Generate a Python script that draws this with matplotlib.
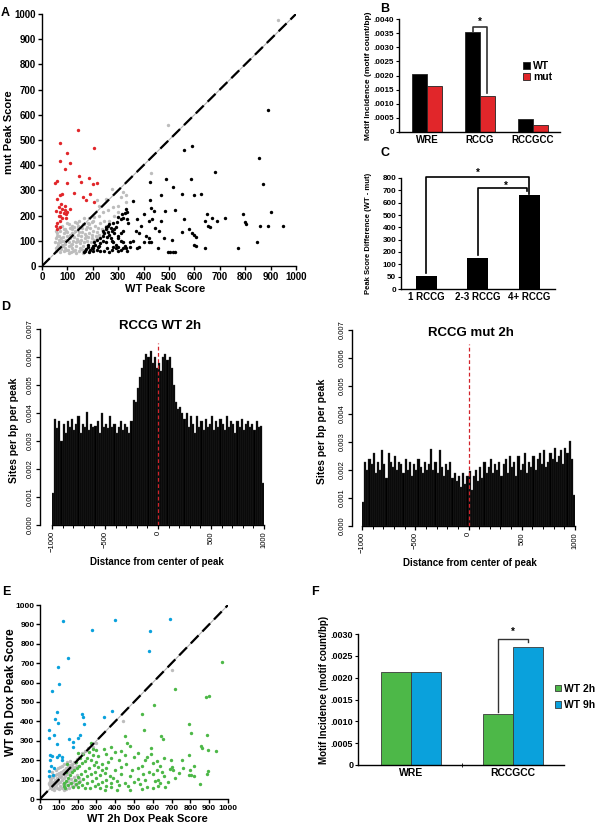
import numpy as np
import matplotlib
matplotlib.use('Agg')
import matplotlib.pyplot as plt

plt.rcParams['font.family'] = ['Liberation Sans', 'DejaVu Sans']
plt.rcParams['font.weight'] = 'bold'
plt.rcParams['axes.labelweight'] = 'bold'
plt.rcParams['axes.linewidth'] = 1.0

# ---------------- data ----------------
# A: WT vs mut peak scores
a_red = [(140, 540), (70, 487), (205, 467), (100, 447), (70, 417), (110, 410), (90, 385),
         (145, 357), (185, 350), (60, 338), (50, 328), (100, 330), (215, 330), (155, 333),
         (200, 325), (125, 290), (80, 285), (70, 283), (160, 275), (190, 285), (175, 262),
         (205, 255), (60, 265), (75, 245), (65, 235), (80, 228), (90, 222), (110, 228),
         (55, 220), (70, 215), (85, 210), (95, 205), (65, 198), (80, 192), (95, 190),
         (70, 180), (60, 172), (55, 160), (70, 155), (60, 145), (70, 200), (90, 240), (100, 215)]
a_gray = [(930, 975), (495, 560), (430, 370), (275, 305), (320, 295), (330, 280), (310, 275),
          (250, 265), (215, 262), (225, 240), (330, 255), (300, 240), (280, 235),
          (260, 222), (240, 215), (225, 200), (205, 195), (185, 190), (165, 190), (145, 180),
          (130, 175), (200, 180), (180, 170), (160, 165), (140, 160), (120, 160), (110, 150),
          (90, 145), (70, 140), (55, 140), (55, 60), (60, 75), (62, 90), (65, 105), (68, 120),
          (72, 55), (75, 68), (78, 85), (80, 100), (82, 115), (85, 130), (88, 58), (90, 72),
          (92, 88), (95, 102), (98, 118), (100, 135), (103, 62), (105, 78), (108, 95), (110, 110),
          (112, 125), (115, 55), (118, 70), (120, 88), (122, 100), (125, 115), (128, 140),
          (130, 65), (133, 80), (135, 95), (138, 108), (140, 125), (142, 150), (145, 58),
          (148, 72), (150, 90), (152, 105), (155, 118), (158, 135), (160, 62), (163, 78),
          (165, 95), (168, 110), (170, 128), (173, 145), (178, 100), (182, 115), (185, 130),
          (190, 150), (195, 110), (198, 125), (202, 140), (208, 160), (212, 120), (218, 135),
          (222, 150), (230, 170), (235, 145), (245, 180), (250, 160), (58, 130), (52, 95),
          (57, 110), (66, 150), (77, 160), (87, 148), (97, 170), (107, 165), (117, 145),
          (127, 155), (137, 170), (147, 135), (157, 150), (167, 165), (177, 155), (187, 165),
          (197, 175), (70, 95), (84, 80), (93, 62), (113, 85), (123, 60), (143, 100), (153, 68),
          (175, 120), (192, 95), (205, 105), (215, 110), (225, 125), (240, 130), (255, 150),
          (265, 180), (285, 200), (300, 215), (60, 120), (74, 112), (96, 140), (106, 50),
          (134, 52), (162, 52), (118, 130), (86, 100), (64, 82), (54, 72)]
a_black = [(890, 620), (590, 475), (560, 462), (855, 430), (680, 372), (585, 345), (490, 345),
           (870, 325), (425, 335), (515, 312), (550, 287), (625, 287), (600, 280), (470, 280),
           (425, 262), (430, 232), (360, 258), (440, 220), (485, 220), (525, 222), (900, 215),
           (560, 188), (650, 205), (790, 205), (670, 190), (720, 190), (690, 180), (640, 180),
           (400, 205), (420, 180), (435, 187), (470, 177), (375, 185), (800, 175), (805, 165),
           (860, 160), (890, 160), (950, 158), (655, 160), (660, 155), (580, 145), (590, 130),
           (550, 135), (600, 125), (605, 115), (390, 160), (370, 140), (380, 132), (445, 150),
           (460, 140), (410, 120), (400, 95), (420, 110), (430, 95), (480, 112), (510, 105),
           (455, 72), (420, 95), (380, 75), (375, 70), (360, 100), (345, 95), (600, 85),
           (605, 78), (640, 70), (770, 70), (845, 97), (495, 55), (505, 55), (515, 55), (525, 55),
           (330, 225), (325, 210), (315, 205), (300, 195), (310, 185), (295, 175), (320, 190),
           (335, 215), (280, 170), (265, 165), (260, 160), (250, 155), (270, 150), (285, 145),
           (290, 155), (275, 140), (260, 135), (245, 130), (240, 120), (255, 115), (265, 125),
           (285, 130), (300, 120), (300, 110), (310, 100), (320, 95), (325, 80), (320, 70),
           (310, 65), (300, 60), (290, 85), (280, 95), (275, 100), (270, 110), (250, 95),
           (240, 100), (230, 90), (225, 80), (220, 75), (210, 85), (200, 80), (195, 70),
           (190, 65), (180, 75), (175, 68), (170, 60), (165, 55), (185, 55), (200, 60), (215, 62),
           (230, 58), (245, 60), (255, 70), (265, 55), (275, 65), (280, 75), (290, 70), (300, 75),
           (205, 95), (215, 105), (230, 110), (200, 70), (180, 85), (240, 140), (250, 145),
           (330, 70), (335, 60), (345, 75), (340, 170), (335, 185), (320, 140), (310, 130)]

# B: motif incidence WT vs mut
b_motifs = ['WRE', 'RCCG', 'RCCGCC']
b_wt = [0.00205, 0.00355, 0.00045]
b_mut = [0.00163, 0.00129, 0.00024]
b_ticks = [0, .0005, .0010, .0015, .0020, .0025, .0030, .0035, .0040]
b_ticklabels = ['0', '.0005', '.0010', '.0015', '.0020', '.0025', '.0030', '.0035', '.0040']

# C: peak score difference
c_groups = ['1 RCCG', '2-3 RCCG', '4+ RCCG']
c_diff = [51, 149, 664]
c_ticks = [0, 50, 100, 200, 300, 400, 500, 600, 700, 800]

# D: RCCG site density (x 0.001), 20 bp bins from -1000 to 1000
d_wt_e3 = [1.15, 3.8, 3.45, 3.7, 3.0, 3.6, 3.3, 3.7, 3.5, 3.8, 3.4, 3.6, 3.9, 3.3, 3.6, 3.5,
           4.05, 3.4, 3.6, 3.5, 3.55, 3.7, 3.3, 4.0, 3.5, 3.6, 3.45, 3.9, 3.5, 3.6, 3.3, 3.5,
           3.7, 3.4, 3.6, 3.5, 3.3,
           3.7, 4.45, 4.4, 4.9, 5.3, 5.6, 5.9, 6.1, 6.0, 6.2, 5.8, 6.0, 5.6,
           5.8, 5.5, 6.0, 6.1, 5.9, 6.0, 5.6, 5.0, 4.4, 4.15, 4.2, 4.0, 3.8,
           4.0, 3.5, 3.9, 3.6, 3.3, 3.9, 3.5, 3.7, 3.4, 3.8, 3.5, 3.6, 3.9, 3.4, 3.7, 3.5,
           3.8, 3.6, 3.4, 3.9, 3.5, 3.7, 3.6, 3.3, 3.7, 3.5, 3.8, 3.4, 3.6, 3.7, 3.5, 3.6,
           3.4, 3.7, 3.5, 3.55, 1.5]
d_mut_e3 = [0.85, 2.3, 2.0, 2.4, 2.2, 2.6, 1.9, 2.3, 2.0, 2.7, 2.2, 1.7, 2.6, 2.3, 2.1, 2.5,
            2.0, 2.3, 2.2, 1.9, 2.4, 2.0, 2.3, 1.8, 2.2, 2.0, 2.4, 2.1, 1.9, 2.3, 2.0, 2.2,
            2.75, 2.0, 2.3, 1.9, 2.7, 2.1, 1.8, 2.2,
            2.0, 2.3, 1.7, 1.9, 1.6, 1.8, 1.4, 1.9, 1.5, 1.8,
            1.95, 1.3, 1.8, 2.0, 1.6, 2.1, 1.7, 2.3, 1.9, 2.1,
            2.4, 1.9, 2.2, 2.0, 2.3, 1.8, 2.2, 2.4, 1.9, 2.5, 2.1, 2.3, 1.8, 2.5, 2.0, 2.2,
            2.6, 1.9, 2.3, 2.1, 2.5, 2.0, 2.4, 2.6, 2.2, 2.7, 2.1, 2.3, 2.6, 2.4, 2.8, 2.3,
            2.5, 2.7, 2.2, 2.8, 2.6, 3.05, 2.4, 1.1]

# E: WT 2h vs WT 9h peak scores
e_blue = [(120, 918), (400, 923), (689, 928), (274, 871), (586, 866), (579, 763), (147, 729),
          (98, 679), (101, 592), (62, 557), (89, 451), (78, 412), (98, 394), (382, 456),
          (343, 425), (224, 436), (229, 422), (234, 388), (46, 357), (75, 331), (50, 314),
          (92, 285), (155, 307), (174, 295), (204, 316), (213, 331), (174, 268), (52, 228),
          (62, 220), (89, 214), (103, 228), (115, 216), (119, 199), (57, 168), (48, 142),
          (50, 120), (71, 125), (53, 199), (76, 160)]
e_gray = [(700, 665), (440, 400), (300, 290), (280, 270), (255, 265), (240, 250), (225, 235),
          (210, 215), (195, 205), (180, 190), (170, 180), (160, 175), (150, 165), (140, 160),
          (130, 150), (120, 145), (110, 140), (100, 135), (90, 130), (80, 125), (70, 115),
          (60, 105), (55, 95), (50, 85), (48, 75), (52, 65), (58, 55), (65, 50), (75, 60),
          (85, 70), (95, 80), (105, 90), (115, 100), (125, 110), (135, 120), (145, 130),
          (155, 140), (165, 150), (175, 160), (185, 165), (195, 170), (60, 80), (70, 90),
          (80, 100), (90, 110), (100, 120), (110, 125), (120, 130), (75, 45), (90, 55),
          (105, 65), (120, 75), (135, 85), (150, 95), (165, 105), (180, 115), (195, 125),
          (100, 50), (115, 55), (130, 60), (145, 70), (160, 80), (175, 90), (190, 100),
          (205, 110), (125, 45), (140, 50), (155, 58), (170, 65), (185, 72), (200, 85),
          (215, 95), (62, 140), (58, 120), (85, 150), (95, 160), (108, 165), (118, 170),
          (130, 180), (145, 190), (160, 195), (52, 110), (66, 68), (78, 78), (88, 88), (98, 98),
          (112, 112), (128, 128), (142, 142), (158, 158), (172, 172), (186, 186)]
e_green = [(968, 705), (720, 568), (900, 530), (885, 525), (608, 482), (545, 436), (555, 357),
           (642, 325), (652, 310), (795, 388), (805, 340), (888, 330), (938, 245), (895, 255),
           (860, 265), (855, 275), (800, 150), (805, 125), (790, 125), (820, 120), (790, 225),
           (755, 200), (850, 75), (890, 130), (895, 145), (820, 170), (450, 325), (465, 290),
           (480, 275), (590, 265), (500, 215), (560, 200), (620, 195), (600, 185), (640, 170),
           (700, 165), (710, 150), (690, 155), (660, 120), (720, 110), (680, 90), (640, 80),
           (610, 95), (560, 100), (520, 105), (480, 120), (430, 130), (400, 150), (350, 160),
           (330, 180), (300, 190), (270, 200), (250, 210), (240, 195), (225, 185), (210, 170),
           (195, 160), (180, 150), (170, 140), (160, 125), (150, 110), (140, 95), (130, 80),
           (125, 65), (135, 55), (150, 70), (165, 85), (185, 100), (200, 115), (220, 130),
           (240, 145), (260, 160), (285, 175), (310, 165), (330, 150), (290, 140), (270, 130),
           (250, 120), (230, 105), (210, 90), (190, 75), (175, 60), (200, 60), (225, 70),
           (250, 80), (275, 95), (300, 110), (320, 125), (345, 135), (370, 120), (390, 110),
           (410, 95), (380, 85), (350, 100), (330, 90), (310, 75), (290, 65), (265, 55),
           (240, 55), (320, 55), (350, 65), (380, 60), (420, 70), (450, 80), (470, 65),
           (500, 90), (530, 75), (570, 60), (600, 55), (630, 65), (550, 130), (520, 160),
           (460, 180), (420, 200), (380, 210), (360, 190), (310, 220), (280, 225), (430, 165),
           (490, 150), (540, 170), (580, 140), (600, 130), (620, 150), (650, 140), (740, 135),
           (760, 160), (695, 200), (660, 210), (450, 225), (400, 240), (350, 230), (340, 260),
           (380, 270), (430, 250), (520, 235), (570, 215), (590, 230), (345, 45), (260, 240),
           (230, 230), (215, 210), (280, 260), (300, 255), (480, 45), (630, 100), (665, 60),
           (540, 50), (410, 45), (140, 140), (145, 180), (190, 190), (200, 235), (270, 290)]

# F: motif incidence WT 2h vs WT 9h
f_motifs = ['WRE', 'RCCGCC']
f_2h = [0.00214, 0.00117]
f_9h = [0.00214, 0.00271]
f_ticks = [0, .0005, .0010, .0015, .0020, .0025, .0030]
f_ticklabels = ['0', '.0005', '.0010', '.0015', '.0020', '.0025', '.0030']

RED = '#e1262a'
GRAY = '#bdbdbd'
GREEN = '#4db848'
BLUE = '#0aa1dc'

W, H = 596, 826
fig = plt.figure(figsize=(W / 100, H / 100), dpi=100)


def box(l, t, r, b):
    return [l / W, 1 - b / H, (r - l) / W, (b - t) / H]


def scatter_panel(ax, groups, ticksize):
    for pts, col in groups:
        arr = np.array(pts)
        ax.scatter(arr[:, 0], arr[:, 1], s=6, color=col, linewidths=0, zorder=3)
    ax.plot([0, 1000], [0, 1000], color='#b0b0b0', lw=0.8, zorder=4)
    ax.plot([0, 1000], [0, 1000], color='black', lw=1.6, dashes=(5, 2.5), zorder=5)
    ax.set_xlim(0, 1000)
    ax.set_ylim(0, 1000)
    ax.set_xticks(range(0, 1001, 100))
    ax.set_yticks(range(0, 1001, 100))
    for s in ['top', 'right']:
        ax.spines[s].set_visible(False)
    ax.tick_params(labelsize=ticksize, length=3, width=1, pad=1.5)


# ---------- A ----------
axA = fig.add_axes(box(42, 14, 296, 266))
scatter_panel(axA, [(a_gray, GRAY), (a_red, RED), (a_black, 'black')], 7)
axA.set_xlabel('WT Peak Score', fontsize=8)
axA.set_ylabel('mut Peak Score', fontsize=8)
axA.xaxis.set_label_coords(0.484, -0.072)
axA.yaxis.set_label_coords(-0.11, 0.53)

# ---------- B ----------
axB = fig.add_axes(box(399, 19, 560, 132))
xb = np.arange(len(b_motifs))
bw = 0.28
axB.bar(xb - bw / 2, b_wt, bw, color='black', edgecolor='#222222', lw=0.6, label='WT')
axB.bar(xb + bw / 2, b_mut, bw, color=RED, edgecolor='#222222', lw=0.6, label='mut')
axB.set_xlim(-0.53, 2.51)
axB.set_ylim(0, 0.004)
axB.set_yticks(b_ticks)
axB.set_yticklabels(b_ticklabels)
axB.set_xticks(xb)
axB.set_xticklabels(b_motifs)
axB.tick_params(axis='y', labelsize=5.8, length=2.5, pad=1)
axB.tick_params(axis='x', labelsize=7, length=0, pad=2)
for s in ['top', 'right']:
    axB.spines[s].set_visible(False)
axB.set_ylabel('Motif Incidence (motif count/bp)', fontsize=6)
axB.yaxis.set_label_coords(-0.165, 0.5)
axB.legend(loc='upper left', bbox_to_anchor=(0.77, 0.63), frameon=False, fontsize=7.5,
           handlelength=0.7, handleheight=0.7, handletextpad=0.3, labelspacing=0.15,
           borderaxespad=0, borderpad=0)
axB.plot([1 - bw / 2, 1 - bw / 2, 1 + bw / 2, 1 + bw / 2],
         [b_wt[1], 0.00372, 0.00372, b_mut[1] + 0.0001], color='#333333', lw=1.2)
axB.text(1, 0.0039, '*', ha='center', va='center', fontsize=7)

# ---------- C ----------
axC = fig.add_axes(box(401, 178, 555, 289))
c_lab = [0, 50, 100, 1000]
c_pos = [0, 1, 2, 11]
axC.set_yscale('function', functions=(lambda v: np.interp(v, c_lab, c_pos),
                                      lambda p: np.interp(p, c_pos, c_lab)))
xc = np.arange(len(c_groups))
axC.bar(xc, c_diff, 0.41, color='black')
axC.set_xlim(-0.49, 2.5)
axC.set_ylim(0, 800)
axC.set_yticks(c_ticks)
axC.set_yticklabels([str(t) for t in c_ticks])
axC.yaxis.set_minor_locator(matplotlib.ticker.NullLocator())
axC.set_xticks(xc)
axC.set_xticklabels(c_groups)
axC.tick_params(axis='y', labelsize=5.8, length=2.5, pad=1)
axC.tick_params(axis='x', labelsize=7, length=0, pad=2)
for s in ['top', 'right']:
    axC.spines[s].set_visible(False)
axC.set_ylabel('Peak Score Difference (WT - mut)', fontsize=5.5)
axC.yaxis.set_label_coords(-0.19, 0.5)
axC.plot([0, 0, 2, 2], [64, 808, 808, 672], color='black', lw=1.2, clip_on=False)
axC.plot([1, 1, 1.95, 1.95], [176, 718, 718, 691], color='black', lw=1.2, clip_on=False)
axC.text(1, 840, '*', ha='center', va='center', fontsize=7)
axC.text(1.55, 738, '*', ha='center', va='center', fontsize=7)


# ---------- D ----------
def hist_panel(ax, vals, title, title_y, offset):
    v = np.array(vals) * 1e-3
    edges = np.linspace(-1000, 1000, len(v) + 1)
    ax.bar(edges[:-1], v, width=np.diff(edges), align='edge', color='black',
           edgecolor='#3a3a3a', lw=0.25)
    ax.axvline(0, ymax=0.0065 / 0.0072, color='#d2232a', lw=0.9, dashes=(3, 2), zorder=5)
    ax.set_xlim(-1000, 1000)
    ax.set_ylim(0, 0.0072)
    ax.set_yticks(np.arange(0, 0.0071, 0.001))
    ax.set_yticklabels(['%.3f' % t for t in np.arange(0, 0.0071, 0.001)])
    ax.set_xticks([-1000, -500, 0, 500, 1000])
    ax.set_xticklabels(['\u22121000', '\u2212500', '0', '500', '1000'])
    ax.set_xticks(np.arange(-1000, 1001, 100), minor=True)
    for s in ['top', 'right']:
        ax.spines[s].set_visible(False)
    ax.spines['left'].set_position(('outward', offset))
    ax.spines['left'].set_bounds(0, 0.007)
    ax.tick_params(labelsize=5.5, length=3, width=0.9, pad=1.5)
    ax.tick_params(which='minor', length=2, width=0.7)
    ax.tick_params(axis='y', labelrotation=90)
    ax.tick_params(axis='x', labelrotation=90)
    for t in ax.get_xticklabels() + ax.get_yticklabels():
        t.set_fontweight('normal')
    for t in ax.get_yticklabels():
        t.set_va('center')
    ax.text(0.51, title_y, title, transform=ax.transAxes, ha='center', va='center', fontsize=9.5)
    ax.set_xlabel('Distance from center of peak', fontsize=7)
    ax.set_ylabel('Sites per bp per peak', fontsize=7.5)


axD1 = fig.add_axes(box(52, 323.4, 264, 525))
hist_panel(axD1, d_wt_e3, 'RCCG WT 2h', 0.985, 8.6)
axD1.xaxis.set_label_coords(0.495, -0.16)
axD1.yaxis.set_label_coords(-0.155, 0.47)

axD2 = fig.add_axes(box(362, 324.4, 575, 526))
hist_panel(axD2, d_mut_e3, 'RCCG mut 2h', 0.955, 7.2)
axD2.xaxis.set_label_coords(0.507, -0.16)
axD2.yaxis.set_label_coords(-0.165, 0.47)

# ---------- E ----------
axE = fig.add_axes(box(40, 605, 228, 799))
scatter_panel(axE, [(e_gray, GRAY), (e_blue, BLUE), (e_green, GREEN)], 6)
axE.tick_params(pad=1)
axE.set_xlabel('WT 2h Dox Peak Score', fontsize=8)
axE.set_ylabel('WT 9h Dox Peak Score', fontsize=8.5)
axE.xaxis.set_label_coords(0.57, -0.075)
axE.yaxis.set_label_coords(-0.12, 0.55)

# ---------- F ----------
axF = fig.add_axes(box(358, 634, 564, 765))
xf = np.arange(len(f_motifs))
fw = 0.29
axF.bar(xf - fw / 2, f_2h, fw, color=GREEN, edgecolor='#3a3a3a', lw=0.6, label='WT 2h')
axF.bar(xf + fw / 2, f_9h, fw, color=BLUE, edgecolor='#3a3a3a', lw=0.6, label='WT 9h')
axF.set_xlim(-0.52, 0.5 + 1)
axF.set_ylim(0, 0.003)
axF.set_yticks(f_ticks)
axF.set_yticklabels(f_ticklabels)
axF.set_xticks(xf)
axF.set_xticklabels(f_motifs)
axF.set_xticks([0.5], minor=True)
axF.tick_params(axis='y', labelsize=6.5, length=2.5, pad=1)
axF.tick_params(axis='x', which='major', labelsize=7.5, length=0, pad=2)
axF.tick_params(axis='x', which='minor', length=3, direction='inout')
for s in ['top', 'right']:
    axF.spines[s].set_visible(False)
axF.set_ylabel('Motif Incidence (motif count/bp)', fontsize=7)
axF.yaxis.set_label_coords(-0.14, 0.57)
axF.legend(loc='upper left', bbox_to_anchor=(0.955, 0.62), frameon=False, fontsize=7.5,
           handlelength=0.6, handleheight=0.6, handletextpad=0.3, labelspacing=0.6,
           borderaxespad=0, borderpad=0)
axF.plot([1 - fw / 2, 1 - fw / 2, 1 + fw / 2, 1 + fw / 2],
         [0.00121, 0.00289, 0.00289, f_9h[1] + 0.0001], color='#333333', lw=1.0)
axF.text(1, 0.00305, '*', ha='center', va='center', fontsize=7)

# panel letters
for lab, x, y in [('A', 5, 13), ('B', 385, 9), ('C', 385, 153), ('D', 6, 307),
                  ('E', 6, 592), ('F', 315, 592)]:
    fig.text(x / W, 1 - y / H, lab, ha='center', va='center', fontsize=9)

fig.savefig('out.png', dpi=100)
